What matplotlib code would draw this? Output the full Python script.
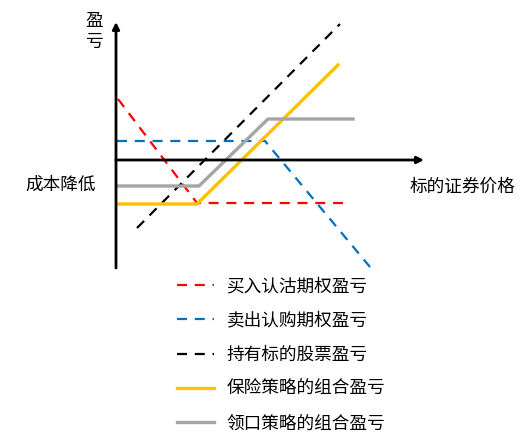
import matplotlib
matplotlib.use('Agg')
import matplotlib.pyplot as plt

plt.rcParams['font.family'] = ['Noto Sans CJK SC', 'DejaVu Sans']

# 数据（横轴：标的价格，纵轴：盈亏，示意图单位）
put_x = [2, 81, 227]
put_y = [61, -43, -43]
call_x = [1, 149, 254]
call_y = [19, 19, -107]
stock_x = [21, 224]
stock_y = [-68, 136]
protect_x = [2, 81, 222]
protect_y = [-44, -44, 95]
collar_x = [2, 81, 83, 152, 237]
collar_y = [-26, -26, -26, 41, 41]

labels = ['买入认沽期权盈亏', '卖出认购期权盈亏', '持有标的股票盈亏',
          '保险策略的组合盈亏', '领口策略的组合盈亏']

fig = plt.figure(figsize=(5.32, 4.42), dpi=100)
ax = fig.add_axes([0, 0, 1, 1])
ax.set_xlim(-116, 416)
ax.set_ylim(-282, 160)
ax.axis('off')

# 坐标轴
ax.annotate('', xy=(0, 138), xytext=(0, -108),
            arrowprops=dict(arrowstyle='-|>', color='black', lw=2,
                            mutation_scale=10, shrinkA=0, shrinkB=0))
ax.annotate('', xy=(308, 0), xytext=(0, 0),
            arrowprops=dict(arrowstyle='-|>', color='black', lw=2,
                            mutation_scale=10, shrinkA=0, shrinkB=0))

ax.plot(put_x, put_y, color='#FF0000', lw=1.6, ls=(0, (4.5, 3.5)), label=labels[0])
ax.plot(call_x, call_y, color='#0070C0', lw=1.6, ls=(0, (4.5, 3.5)), label=labels[1])
ax.plot(stock_x, stock_y, color='black', lw=1.6, ls=(0, (4.5, 3.5)), label=labels[2])
ax.plot(protect_x, protect_y, color='#FFC000', lw=2.4, label=labels[3])
ax.plot(collar_x, collar_y, color='#A5A5A5', lw=2.4, label=labels[4])

fs = 12.7
ax.text(-22, 139, '盈', fontsize=fs, ha='center', va='center')
ax.text(-22, 118, '亏', fontsize=fs, ha='center', va='center')
ax.text(-55, -25, '成本降低', fontsize=fs, ha='center', va='center')
ax.text(346, -27, '标的证券价格', fontsize=fs, ha='center', va='center')

leg = ax.legend(loc='upper left', bbox_to_anchor=(177 / 532, 1 - 277 / 442),
                frameon=False, fontsize=fs, handlelength=2.1, handletextpad=0.7,
                labelspacing=0.93, borderpad=0, borderaxespad=0)

fig.savefig('out.png', dpi=100)
